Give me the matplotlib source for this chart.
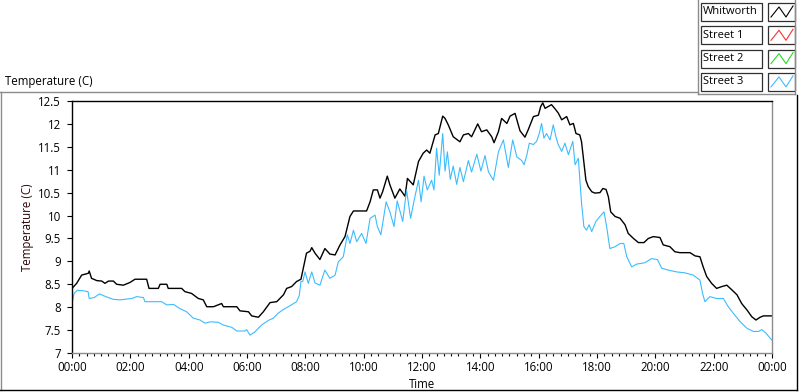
import numpy as np
import matplotlib

matplotlib.use("Agg")
import matplotlib.pyplot as plt
from matplotlib.lines import Line2D
from matplotlib.patches import Rectangle
from matplotlib.ticker import FixedLocator, FuncFormatter, MultipleLocator

plt.rcParams["font.family"] = ["Open Sans", "DejaVu Sans"]

# series: hours since midnight, temperature in C
whitworth_h = [0.0, 0.16, 0.33, 0.56, 0.59, 0.67, 0.85, 1.02, 1.13, 1.25, 1.42, 1.53, 1.76, 1.99,
               2.16, 2.56, 2.64, 2.96, 3.02, 3.25, 3.30, 3.76, 3.87, 4.10, 4.33, 4.50, 4.62, 4.85,
               5.13, 5.19, 5.65, 5.76, 6.05, 6.16, 6.39, 6.56, 6.79, 7.02, 7.25, 7.36, 7.53, 7.70,
               7.85, 7.93, 8.04, 8.16, 8.22, 8.33, 8.50, 8.67, 8.84, 9.02, 9.19, 9.36, 9.53, 9.65,
               10.10, 10.22, 10.33, 10.47, 10.56, 10.65, 10.81, 10.90, 11.07, 11.24, 11.42, 11.50,
               11.70, 11.88, 12.04, 12.16, 12.27, 12.45, 12.56, 12.71, 12.79, 12.90, 13.07, 13.30,
               13.42, 13.59, 13.70, 13.91, 14.04, 14.22, 14.39, 14.47, 14.62, 14.73, 14.91, 15.02,
               15.19, 15.36, 15.53, 15.64, 15.82, 15.99, 16.07, 16.14, 16.22, 16.33, 16.44, 16.56,
               16.67, 16.79, 16.96, 17.07, 17.19, 17.28, 17.41, 17.47, 17.53, 17.62, 17.70, 17.82,
               17.93, 18.10, 18.20, 18.31, 18.39, 18.47, 18.62, 18.79, 18.96, 19.07, 19.25, 19.42,
               19.61, 19.76, 19.93, 20.16, 20.27, 20.50, 20.67, 20.84, 21.19, 21.36, 21.53, 21.64,
               21.76, 21.93, 22.10, 22.28, 22.45, 22.62, 22.80, 22.96, 23.14, 23.31, 23.45, 23.59,
               23.71, 24.0]
whitworth_t = [8.41, 8.52, 8.70, 8.74, 8.79, 8.63, 8.58, 8.57, 8.52, 8.57, 8.57, 8.50, 8.48, 8.54,
               8.61, 8.61, 8.41, 8.41, 8.50, 8.50, 8.41, 8.41, 8.34, 8.30, 8.19, 8.16, 8.01, 8.01,
               8.08, 8.01, 8.01, 7.92, 7.90, 7.81, 7.78, 7.90, 8.10, 8.12, 8.27, 8.41, 8.45, 8.56,
               8.61, 8.85, 9.18, 9.22, 9.30, 9.18, 9.04, 9.28, 9.16, 9.14, 9.36, 9.54, 9.98, 10.10,
               10.10, 10.30, 10.56, 10.56, 10.38, 10.52, 10.86, 10.67, 10.38, 10.58, 10.42, 10.81,
               10.67, 11.18, 11.36, 11.43, 11.36, 11.76, 11.79, 12.17, 12.12, 11.98, 11.72, 11.61,
               11.76, 11.79, 11.72, 12.00, 11.83, 11.87, 11.72, 11.59, 11.83, 12.12, 12.01, 12.17,
               12.23, 11.85, 11.71, 11.87, 12.16, 12.19, 12.38, 12.46, 12.34, 12.38, 12.42, 12.33,
               12.24, 12.09, 12.16, 11.98, 12.01, 11.79, 11.76, 11.61, 11.28, 10.77, 10.63, 10.52,
               10.49, 10.50, 10.59, 10.57, 10.41, 10.08, 9.98, 9.94, 9.80, 9.61, 9.50, 9.41,
               9.41, 9.50, 9.54, 9.52, 9.36, 9.32, 9.21, 9.19, 9.19, 9.12, 9.10, 8.88,
               8.67, 8.52, 8.41, 8.45, 8.48, 8.38, 8.27, 8.08, 7.94, 7.79, 7.72, 7.78,
               7.81, 7.81]

street3_h = [0.0, 0.07, 0.18, 0.36, 0.55, 0.59, 0.76, 0.94, 1.16, 1.42, 1.65, 2.05, 2.22, 2.45,
             2.50, 2.79, 3.07, 3.25, 3.48, 3.70, 3.93, 4.16, 4.39, 4.56, 4.73, 5.02, 5.19, 5.48,
             5.65, 5.93, 5.99, 6.10, 6.27, 6.50, 6.73, 6.90, 7.07, 7.25, 7.47, 7.70, 7.79, 7.85,
             7.91, 7.99, 8.10, 8.22, 8.33, 8.50, 8.67, 8.84, 9.02, 9.13, 9.30, 9.44, 9.53, 9.65,
             9.76, 9.93, 10.08, 10.22, 10.39, 10.47, 10.59, 10.77, 10.90, 11.04, 11.15, 11.34,
             11.47, 11.61, 11.72, 11.88, 11.97, 12.07, 12.18, 12.33, 12.41, 12.50, 12.59, 12.71,
             12.79, 12.87, 12.97, 13.07, 13.19, 13.30, 13.42, 13.59, 13.70, 13.88, 14.02, 14.16,
             14.28, 14.45, 14.62, 14.79, 14.96, 15.11, 15.25, 15.42, 15.50, 15.59, 15.68, 15.82,
             15.93, 16.02, 16.10, 16.18, 16.27, 16.39, 16.50, 16.59, 16.67, 16.79, 16.90, 17.02,
             17.17, 17.25, 17.36, 17.41, 17.47, 17.55, 17.64, 17.73, 17.82, 17.96, 18.10, 18.24,
             18.33, 18.44, 18.62, 18.79, 18.92, 19.02, 19.19, 19.36, 19.64, 19.87, 20.07, 20.22,
             20.44, 20.73, 21.01, 21.30, 21.53, 21.62, 21.70, 21.87, 22.10, 22.33, 22.50, 22.67,
             22.90, 23.14, 23.36, 23.53, 23.65, 23.80, 23.94, 24.0]
street3_t = [8.08, 8.30, 8.37, 8.36, 8.34, 8.19, 8.21, 8.29, 8.23, 8.17, 8.16, 8.19, 8.23, 8.21,
             8.12, 8.12, 8.12, 8.05, 8.06, 7.97, 7.90, 7.76, 7.72, 7.65, 7.68, 7.67, 7.61, 7.56,
             7.48, 7.48, 7.51, 7.39, 7.46, 7.61, 7.71, 7.76, 7.87, 7.95, 8.03, 8.12, 8.25, 8.56,
             8.56, 8.77, 8.52, 8.77, 8.53, 8.48, 8.81, 8.63, 8.70, 8.99, 9.10, 9.58, 9.39, 9.68,
             9.43, 9.61, 9.39, 9.94, 10.01, 9.76, 9.58, 10.30, 10.08, 9.76, 10.32, 9.87,
             10.56, 9.94, 10.30, 10.77, 10.30, 10.86, 10.56, 10.77, 10.56, 11.47, 10.88, 11.79,
             10.97, 11.39, 10.79, 11.08, 10.68, 11.05, 10.74, 11.20, 10.95, 11.34, 10.97, 11.31,
             10.95, 10.77, 11.39, 11.65, 11.05, 11.65, 11.28, 11.20, 11.11, 11.31, 11.58, 11.55,
             11.62, 11.79, 12.01, 11.69, 11.79, 11.65, 11.98, 11.72, 11.55, 11.40, 11.58, 11.33,
             11.62, 11.11, 11.25, 10.81, 10.27, 9.76, 9.68, 9.80, 9.65, 9.87, 9.98, 10.08,
             9.76, 9.28, 9.32, 9.39, 9.39, 9.10, 8.88, 8.94, 8.97, 9.06, 9.04, 8.85,
             8.81, 8.77, 8.75, 8.70, 8.59, 8.30, 8.12, 8.23, 8.19, 8.19, 8.01, 7.87,
             7.69, 7.54, 7.47, 7.47, 7.51, 7.43, 7.32, 7.28]

legend_names = ["Whitworth", "Street 1", "Street 2", "Street 3"]
legend_colors = ["#000000", "#ff3030", "#20e020", "#3cbcff"]

W, H = 800, 392
FS = 8.3


def fx(px):
    return px / W


def fy(py):
    return 1 - py / H


fig = plt.figure(figsize=(8, 3.92), dpi=100)
fig.patch.set_facecolor("white")
ax = fig.add_axes([fx(72), fy(353), fx(772) - fx(72), fy(101) - fy(353)])

ax.plot(whitworth_h, whitworth_t, color=legend_colors[0], lw=1.0)
ax.plot(street3_h, street3_t, color=legend_colors[3], lw=0.8)

ax.set_xlim(0, 24)
ax.set_ylim(7, 12.5)
ax.xaxis.set_major_locator(FixedLocator(np.arange(0, 25, 2)))
ax.xaxis.set_minor_locator(MultipleLocator(0.25))
ax.xaxis.set_major_formatter(FuncFormatter(lambda v, _p: "%02d:00" % (int(round(v)) % 24)))
ax.yaxis.set_major_locator(MultipleLocator(0.5))
ax.yaxis.set_major_formatter(FuncFormatter(lambda v, _p: "%g" % v))
ax.tick_params(axis="both", which="major", direction="out", length=3.5, width=0.8,
               labelsize=FS, colors="black", pad=2.5)
ax.tick_params(axis="y", pad=4.5)
ax.tick_params(axis="x", which="minor", direction="out", length=2.2, width=0.8)
ax.spines["top"].set_color("black")
ax.spines["left"].set_color("black")
ax.spines["right"].set_color("#8c8c8c")
ax.spines["bottom"].set_color("#8c8c8c")
for s in ax.spines.values():
    s.set_linewidth(1.0)

ax.set_xlabel("Time", fontsize=FS, labelpad=3)
ax.set_ylabel("Temperature (C)", fontsize=FS, color="#2a0606", labelpad=3)

fig.text(fx(5), fy(81), "Temperature (C)", fontsize=FS, va="center", ha="left")

# chart frame: light top/left, dark bottom/right
frame = [((0, 92), (698, 92), "#8c8c8c"), ((1, 92), (1, 390), "#8c8c8c"),
         ((0, 390), (797, 390), "black"), ((797, 95), (797, 390), "black"),
         ((698, 0), (698, 94), "#8c8c8c"), ((698, 94), (795, 94), "#8c8c8c"),
         ((795, 0), (795, 94), "#8c8c8c")]
for (x0, y0), (x1, y1), c in frame:
    fig.add_artist(Line2D([fx(x0), fx(x1)], [fy(y0), fy(y1)], color=c, lw=1.0))

# plot legend, one boxed row per series
for i, (name, col) in enumerate(zip(legend_names, legend_colors)):
    top = 3 + i * 23.3
    bot = top + 18
    fig.add_artist(Rectangle((fx(701), fy(bot)), fx(762) - fx(701), fy(top) - fy(bot),
                             fill=False, ec="#303030", lw=0.9))
    fig.add_artist(Rectangle((fx(768), fy(bot)), fx(795) - fx(768), fy(top) - fy(bot),
                             fill=False, ec="#303030", lw=0.9))
    fig.text(fx(703), fy((top + bot) / 2), name, fontsize=8.0, va="center", ha="left")
    zx = [771, 779, 786, 793]
    zy = [bot - 4, top + 4, bot - 4, top + 3]
    fig.add_artist(Line2D([fx(v) for v in zx], [fy(v) for v in zy], color=col, lw=0.8))

fig.savefig("out.png", dpi=100, facecolor="white")
